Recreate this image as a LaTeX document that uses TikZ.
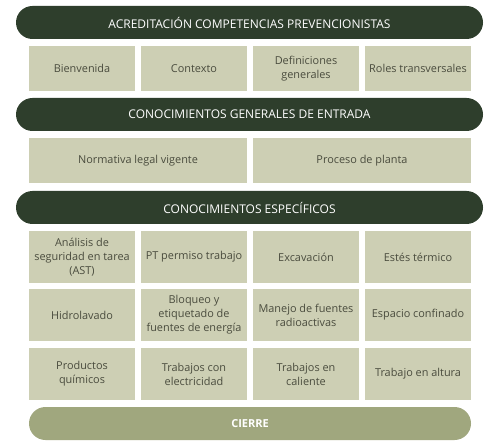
\documentclass[tikz,border=0pt]{standalone}
\usepackage{fontspec}
\setmainfont{Open Sans}
\definecolor{dark}{HTML}{2E3E2C}
\definecolor{boxc}{HTML}{CDCFB4}
\definecolor{txt}{HTML}{4A4C3E}
\definecolor{cierre}{HTML}{A0A77E}
\begin{document}
\begin{tikzpicture}[x=1pt,y=-1pt,
  banner/.style={fill=dark,text=white,rounded corners=16.5pt,minimum height=33pt,inner sep=0pt,font=\fontsize{12}{14}\selectfont},
  cbox/.style={fill=boxc,text=txt,minimum height=#1,inner sep=2pt,align=center,font=\fontsize{10.9}{14}\selectfont},
  cbox/.default=45pt,
  endbar/.style={fill=cierre,text=white,rounded corners=16.5pt,minimum height=33pt,inner sep=0pt,font=\fontsize{11}{13}\selectfont\bfseries}]
\useasboundingbox (0,0) rectangle (500,446);
\fill[white] (0,0) rectangle (500,446);
% banners
\node[banner,minimum width=467pt] (b1) at (249.5,22.5) {ACREDITACIÓN COMPETENCIAS PREVENCIONISTAS};
\node[banner,minimum width=467pt] (b2) at (249.5,114.5) {CONOCIMIENTOS GENERALES DE ENTRADA};
\node[banner,minimum width=467pt] (b3) at (249.5,207.5) {CONOCIMIENTOS ESPECÍFICOS};
% row 1
\node[cbox,minimum width=106pt] (r1a) at (82,68.5) {Bienvenida};
\node[cbox,minimum width=106pt] (r1b) at (194,68.5) {Contexto};
\node[cbox,minimum width=106pt] (r1c) at (306,68.5) {Definiciones\\generales};
\node[cbox,minimum width=106pt] (r1d) at (418,68.5) {Roles transversales};
% row 2
\node[cbox,minimum width=218pt] (r2a) at (138,160.5) {Normativa legal vigente};
\node[cbox,minimum width=218pt] (r2b) at (362,160.5) {Proceso de planta};
% row 3
\node[cbox=52pt,minimum width=106pt] (r3a) at (82,257) {Análisis de\\seguridad en tarea\\(AST)};
\node[cbox=52pt,minimum width=106pt] (r3b) at (194,257) {PT permiso trabajo};
\node[cbox=52pt,minimum width=106pt] (r3c) at (306,257) {Excavación};
\node[cbox=52pt,minimum width=106pt] (r3d) at (418,257) {Estés térmico};
% row 4
\node[cbox=52pt,minimum width=106pt] (r4a) at (82,315) {Hidrolavado};
\node[cbox=52pt,minimum width=106pt] (r4b) at (194,315) {Bloqueo y\\etiquetado de\\fuentes de energía};
\node[cbox=52pt,minimum width=106pt] (r4c) at (306,315) {Manejo de fuentes\\radioactivas};
\node[cbox=52pt,minimum width=106pt] (r4d) at (418,315) {Espacio confinado};
% row 5
\node[cbox=52pt,minimum width=106pt] (r5a) at (82,374) {Productos\\químicos};
\node[cbox=52pt,minimum width=106pt] (r5b) at (194,374) {Trabajos con\\electricidad};
\node[cbox=52pt,minimum width=106pt] (r5c) at (306,374) {Trabajos en\\caliente};
\node[cbox=52pt,minimum width=106pt] (r5d) at (418,374) {Trabajo en altura};
% end
\node[endbar,minimum width=442pt] (end) at (250,423.5) {CIERRE};
\end{tikzpicture}
\end{document}
